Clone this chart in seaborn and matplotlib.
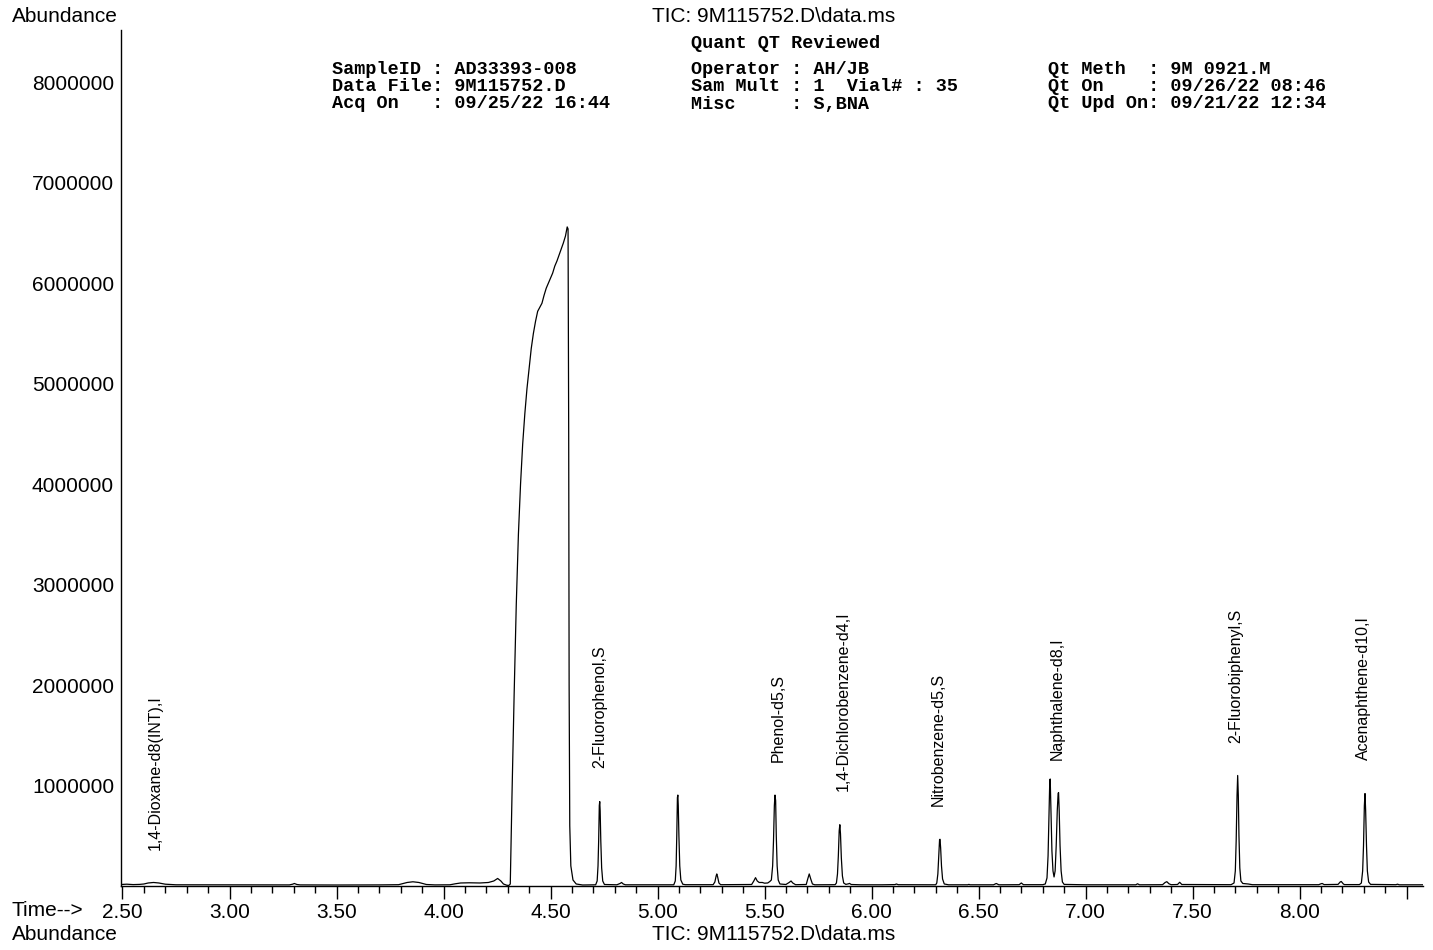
import numpy as np
import pandas as pd
import matplotlib
matplotlib.use("Agg")
import matplotlib.pyplot as plt
import seaborn as sns
from matplotlib.ticker import FixedLocator

# ---------------- data ----------------
# retention time (min) and abundance (millions of counts) of the TIC trace
trace_time = [
    2.493, 2.52, 2.55, 2.58, 2.60, 2.62, 2.645, 2.67, 2.70, 2.75, 2.85, 3.00, 3.15, 3.28,
    3.295, 3.303, 3.315, 3.33, 3.50, 3.70, 3.79, 3.83, 3.857, 3.885, 3.92, 3.96,
    4.03, 4.055, 4.08, 4.12, 4.17, 4.21, 4.235, 4.253, 4.268, 4.28, 4.295, 4.305,
    4.312, 4.320, 4.330, 4.340, 4.350, 4.360, 4.370, 4.380, 4.390, 4.400, 4.410, 4.420, 4.430, 4.440, 4.450, 4.460,
    4.470, 4.480, 4.490, 4.500, 4.510, 4.520, 4.530, 4.540, 4.550, 4.560, 4.570, 4.578, 4.582,
    4.585, 4.587, 4.590, 4.595, 4.605, 4.620, 4.650, 4.700,
    4.711, 4.718, 4.722, 4.725, 4.728, 4.730, 4.732, 4.735, 4.739, 4.744, 4.752,
    4.81, 4.825, 4.832, 4.84, 4.85, 5.07,
    5.076, 5.083, 5.087, 5.090, 5.093, 5.095, 5.097, 5.100, 5.104, 5.109, 5.118, 5.13,
    5.26, 5.268, 5.274, 5.277, 5.281, 5.287, 5.295,
    5.44, 5.45, 5.458, 5.466, 5.475, 5.49, 5.50, 5.515, 5.525,
    5.532, 5.538, 5.542, 5.546, 5.549, 5.552, 5.555, 5.559, 5.564, 5.572,
    5.60, 5.615, 5.624, 5.632, 5.645, 5.695, 5.702, 5.709, 5.716, 5.724, 5.735, 5.83,
    5.836, 5.841, 5.845, 5.849, 5.852, 5.855, 5.859, 5.864, 5.870, 5.880,
    5.893, 5.897, 5.905, 5.95, 6.05, 6.11, 6.116, 6.125, 6.30,
    6.305, 6.310, 6.314, 6.318, 6.320, 6.323, 6.327, 6.332, 6.340, 6.36,
    6.45, 6.455, 6.46, 6.57, 6.583, 6.595, 6.69, 6.70, 6.71, 6.80,
    6.812, 6.820, 6.825, 6.829, 6.833, 6.835, 6.838, 6.843, 6.848, 6.853,
    6.858, 6.863, 6.868, 6.872, 6.874, 6.877, 6.881, 6.886, 6.892, 6.90,
    7.00, 7.235, 7.243, 7.252, 7.36, 7.372, 7.38, 7.39, 7.40, 7.43, 7.44, 7.45, 7.68,
    7.694, 7.700, 7.704, 7.708, 7.711, 7.714, 7.717, 7.721, 7.726, 7.735, 7.76, 7.78,
    8.09, 8.10, 8.106, 8.115, 8.18, 8.19, 8.195, 8.205, 8.21, 8.28,
    8.289, 8.295, 8.299, 8.303, 8.306, 8.309, 8.313, 8.317, 8.323, 8.332,
    8.45, 8.458, 8.466, 8.577,
]
trace_abund_millions = [
    0.015, 0.018, 0.014, 0.016, 0.02, 0.03, 0.035, 0.03, 0.018, 0.012, 0.012, 0.011, 0.011, 0.011,
    0.018, 0.025, 0.015, 0.011, 0.010, 0.011, 0.013, 0.035, 0.042, 0.035, 0.015, 0.011,
    0.012, 0.022, 0.030, 0.032, 0.030, 0.035, 0.050, 0.075, 0.050, 0.020, 0.008, 0.005,
    0.02, 0.9, 1.9, 2.8, 3.5, 4.0, 4.4, 4.7, 4.95, 5.15, 5.35, 5.5, 5.62, 5.72, 5.76, 5.80,
    5.88, 5.95, 6.00, 6.05, 6.10, 6.17, 6.22, 6.28, 6.34, 6.40, 6.47, 6.56, 6.54,
    4.5, 2.0, 0.6, 0.2, 0.06, 0.02, 0.01, 0.012,
    0.012, 0.05, 0.2, 0.45, 0.8, 0.84, 0.75, 0.45, 0.18, 0.05, 0.015,
    0.012, 0.025, 0.035, 0.02, 0.012, 0.012,
    0.012, 0.05, 0.2, 0.5, 0.88, 0.905, 0.8, 0.5, 0.2, 0.06, 0.018, 0.013,
    0.013, 0.04, 0.1, 0.12, 0.09, 0.03, 0.013,
    0.015, 0.05, 0.083, 0.05, 0.035, 0.035, 0.028, 0.03, 0.045,
    0.06, 0.2, 0.45, 0.8, 0.905, 0.85, 0.5, 0.2, 0.06, 0.02,
    0.015, 0.035, 0.05, 0.03, 0.013, 0.015, 0.07, 0.12, 0.07, 0.02, 0.012, 0.013,
    0.03, 0.12, 0.3, 0.55, 0.61, 0.52, 0.28, 0.1, 0.03, 0.016,
    0.022, 0.026, 0.015, 0.012, 0.012, 0.014, 0.02, 0.013, 0.012,
    0.03, 0.12, 0.3, 0.46, 0.465, 0.38, 0.2, 0.07, 0.02, 0.012,
    0.012, 0.016, 0.012, 0.012, 0.025, 0.012, 0.013, 0.03, 0.013, 0.013,
    0.02, 0.08, 0.3, 0.7, 1.05, 1.065, 0.8, 0.35, 0.15, 0.09,
    0.15, 0.4, 0.75, 0.92, 0.93, 0.75, 0.4, 0.15, 0.04, 0.016,
    0.012, 0.012, 0.022, 0.012, 0.013, 0.035, 0.043, 0.022, 0.013, 0.015, 0.037, 0.015, 0.013,
    0.03, 0.15, 0.45, 0.9, 1.10, 0.9, 0.5, 0.18, 0.05, 0.025, 0.02, 0.013,
    0.013, 0.022, 0.025, 0.014, 0.016, 0.04, 0.045, 0.02, 0.014, 0.014,
    0.03, 0.15, 0.4, 0.8, 0.92, 0.75, 0.4, 0.15, 0.04, 0.016,
    0.013, 0.018, 0.012, 0.012,
]
assert len(trace_time) == len(trace_abund_millions)

# compound annotations: name, time of label, abundance at label's lower end
peak_names = ["1,4-Dioxane-d8(INT),I", "2-Fluorophenol,S", "Phenol-d5,S",
              "1,4-Dichlorobenzene-d4,I", "Nitrobenzene-d5,S", "Naphthalene-d8,I",
              "2-Fluorobiphenyl,S", "Acenaphthene-d10,I"]
peak_label_time = [2.653, 4.732, 5.564, 5.866, 6.310, 6.867, 7.704, 8.298]
peak_label_base = [0.36e6, 1.17e6, 1.23e6, 0.945e6, 0.80e6, 1.25e6, 1.42e6, 1.25e6]

x_major_ticks = [2.5, 3.0, 3.5, 4.0, 4.5, 5.0, 5.5, 6.0, 6.5, 7.0, 7.5, 8.0, 8.5]
x_major_labels = ["2.50", "3.00", "3.50", "4.00", "4.50", "5.00", "5.50", "6.00",
                  "6.50", "7.00", "7.50", "8.00", ""]
y_ticks = [1e6, 2e6, 3e6, 4e6, 5e6, 6e6, 7e6, 8e6]
y_labels = ["1000000", "2000000", "3000000", "4000000", "5000000", "6000000",
            "7000000", "8000000"]

title_text = "TIC: 9M115752.D\\data.ms"
header_left = ["SampleID : AD33393-008", "Data File: 9M115752.D", "Acq On   : 09/25/22 16:44"]
header_mid = ["Operator : AH/JB", "Sam Mult : 1  Vial# : 35", "Misc     : S,BNA"]
header_right = ["Qt Meth  : 9M 0921.M", "Qt On    : 09/26/22 08:46", "Qt Upd On: 09/21/22 12:34"]
header_top = "Quant QT Reviewed"

# ---------------- drawing ----------------
sns.set_style("white")
plt.rcParams["font.family"] = ["Liberation Sans", "DejaVu Sans"]
plt.rcParams["text.color"] = "black"
plt.rcParams["xtick.color"] = "black"
plt.rcParams["ytick.color"] = "black"
plt.rcParams["xtick.labelcolor"] = "black"
plt.rcParams["ytick.labelcolor"] = "black"

W, H = 1433, 950
fig = plt.figure(figsize=(W / 100, H / 100), dpi=100)
ax = fig.add_axes([121 / W, 64 / H, 1302 / W, 856 / H])

df = pd.DataFrame({"time": trace_time,
                   "abundance": np.array(trace_abund_millions) * 1e6})
sns.lineplot(data=df, x="time", y="abundance", color="black", linewidth=0.9,
             estimator=None, sort=False, ax=ax)

ax.set_xlim(2.493, 8.577)
ax.set_ylim(0, 8.52e6)
ax.set_xlabel("")
ax.set_ylabel("")

ax.xaxis.set_major_locator(FixedLocator(x_major_ticks))
ax.set_xticklabels(x_major_labels)
ax.xaxis.set_minor_locator(FixedLocator([round(2.5 + 0.1 * i, 2) for i in range(61)]))
ax.set_yticks(y_ticks)
ax.set_yticklabels(y_labels)

for s in ["top", "right"]:
    ax.spines[s].set_visible(False)
for s in ["left", "bottom"]:
    ax.spines[s].set_color("black")
    ax.spines[s].set_linewidth(1.0)

ax.tick_params(axis="x", which="major", direction="out", length=9, width=1.0,
               color="black", labelcolor="black", pad=3, labelsize=15, bottom=True)
ax.tick_params(axis="x", which="minor", direction="out", length=5, width=1.0,
               color="black", bottom=True)
ax.tick_params(axis="y", which="both", length=0, pad=5, labelsize=15,
               labelcolor="black", left=True)

for name, t, b in zip(peak_names, peak_label_time, peak_label_base):
    ax.text(t, b, name, rotation=90, ha="center", va="bottom", fontsize=11.5,
            color="black")

def ftext(x, y, s, **kw):
    fig.text(x / W, 1 - y / H, s, color="black", **kw)

ftext(12, 17, "Abundance", ha="left", va="center", fontsize=15)
ftext(774, 17, title_text, ha="center", va="center", fontsize=15)
ftext(12, 911, "Time-->", ha="left", va="center", fontsize=15)
ftext(12, 935, "Abundance", ha="left", va="center", fontsize=15)
ftext(774, 935, title_text, ha="center", va="center", fontsize=15)

mono = dict(family=["Liberation Mono", "DejaVu Sans Mono"], weight="bold",
            fontsize=13.3, ha="left", va="center")
ftext(691, 43, header_top, **mono)
for i, (a, b, c) in enumerate(zip(header_left, header_mid, header_right)):
    y = 69 + 17.5 * i
    ftext(332, y, a, **mono)
    ftext(691, y, b, **mono)
    ftext(1048, y, c, **mono)

fig.savefig("out.png", dpi=100)
